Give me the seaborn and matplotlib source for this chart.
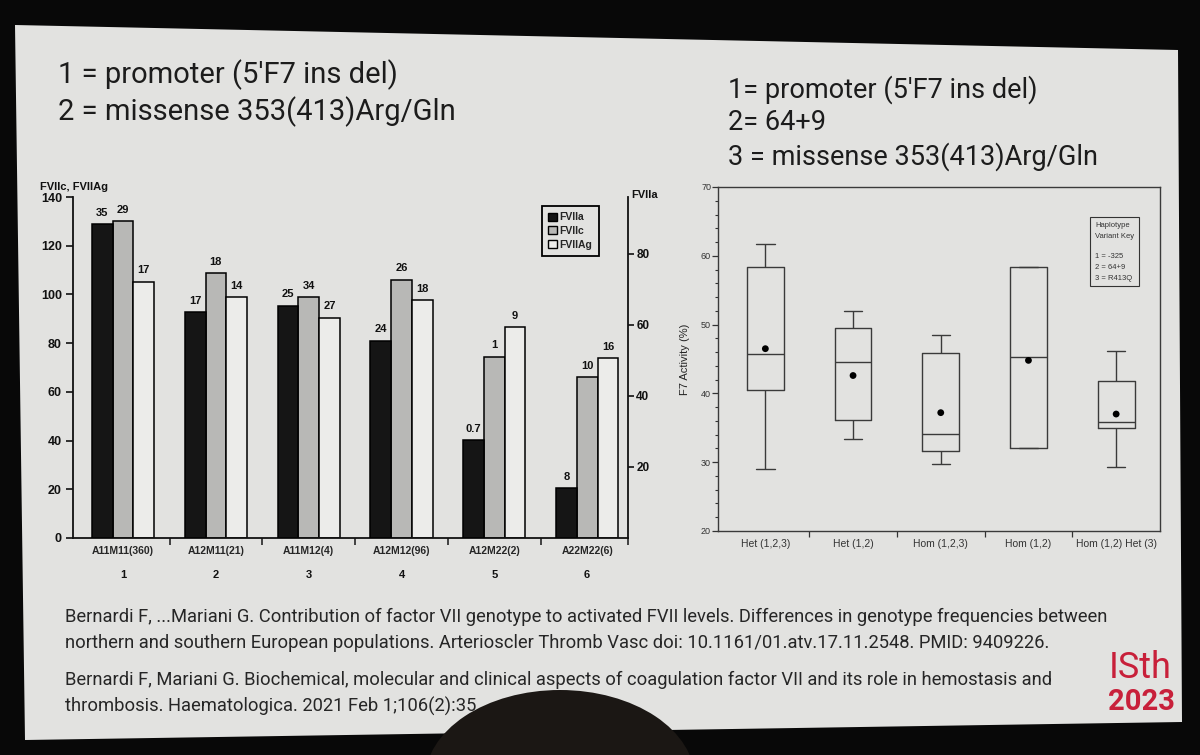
import numpy as np
import pandas as pd
import matplotlib
matplotlib.use("Agg")
import matplotlib.pyplot as plt
import matplotlib.transforms as mtransforms
from matplotlib.patches import Polygon, Ellipse, Patch
from matplotlib.ticker import AutoMinorLocator
import seaborn as sns

# ---------------- data: left chart (bar chart) ----------------
genotypes = ["A11M11(360)", "A12M11(21)", "A11M12(4)", "A12M12(96)", "A12M22(2)", "A22M22(6)"]
group_numbers = ["1", "2", "3", "4", "5", "6"]
series_names = ["FVIIa", "FVIIc", "FVIIAg"]
fviia = [88.4, 63.6, 65.4, 55.5, 27.5, 14.0]        # right axis (FVIIa)
fviic = [130.2, 108.7, 99.1, 106.1, 74.5, 66.0]     # left axis
fviiag = [105.3, 98.9, 90.5, 97.6, 86.5, 74.0]      # left axis
n_fviia = ["35", "17", "25", "24", "0.7", "8"]
n_fviic = ["29", "18", "34", "26", "1", "10"]
n_fviiag = ["17", "14", "27", "18", "9", "16"]
left_ticks = [0, 20, 40, 60, 80, 100, 120, 140]
right_ticks = [20, 40, 60, 80]

# ---------------- data: right chart (box plot) ----------------
haplotypes = ["Het (1,2,3)", "Het (1,2)", "Hom (1,2,3)", "Hom (1,2)", "Hom (1,2) Het (3)"]
whisker_low = [29.0, 33.4, 29.8, 32.0, 29.3]
q1_vals = [40.5, 36.1, 31.6, 32.0, 34.9]
median_vals = [45.7, 44.6, 34.1, 45.3, 35.9]
q3_vals = [58.4, 49.5, 45.9, 58.4, 41.8]
whisker_high = [61.7, 52.0, 48.5, 58.4, 46.2]
mean_activity = [46.5, 42.6, 37.2, 44.8, 37.0]
box_ticks = [20, 30, 40, 50, 60, 70]

# ---------------- text ----------------
left_heading = ["1 = promoter (5\u2032F7 ins del)", "2 = missense 353(413)Arg/Gln"]
right_heading = ["1= promoter (5\u2032F7 ins del)", "2= 64+9", "3 = missense 353(413)Arg/Gln"]
citations = [
    "Bernardi F, ...Mariani G. Contribution of factor VII genotype to activated FVII levels. Differences in genotype frequencies between",
    "northern and southern European populations. Arterioscler Thromb Vasc doi: 10.1161/01.atv.17.11.2548. PMID: 9409226.",
    "Bernardi F, Mariani G. Biochemical, molecular and clinical aspects of coagulation factor VII and its role in hemostasis and",
    "thrombosis. Haematologica. 2021 Feb 1;106(2):35",
]

sns.set_style("ticks")
plt.rcParams["font.family"] = ["Liberation Sans", "DejaVu Sans"]
SLIDE_FONT = ["Roboto", "DejaVu Sans"]

W, H = 1200, 755
fig = plt.figure(figsize=(12, 7.55), dpi=100)
fig.patch.set_facecolor("#080808")


def fx(x):
    return x / W


def fy(y):
    return 1 - y / H


slide_bg = "#e2e2e0"
fig.add_artist(Polygon([(fx(15), fy(25)), (fx(1178), fy(50)), (fx(1182), fy(722)), (fx(25), fy(740))],
                       closed=True, transform=fig.transFigure, facecolor=slide_bg,
                       edgecolor="none", zorder=0))

# headings
for i, t in enumerate(left_heading):
    fig.text(fx(58), fy(75 + 37 * i), t, fontsize=21, family=SLIDE_FONT, color="#1c1c1c",
             ha="left", va="center")
for t, yy in zip(right_heading, [90, 122, 157]):
    fig.text(fx(728), fy(yy), t, fontsize=19.5, family=SLIDE_FONT, color="#1c1c1c",
             ha="left", va="center")

# citations
for t, yy in zip(citations, [617, 643, 680, 706]):
    fig.text(fx(65), fy(yy), t, fontsize=13.2, family=SLIDE_FONT, color="#262626",
             ha="left", va="center")

# logo text
fig.text(fx(1140), fy(668), "ISth", fontsize=26, family=SLIDE_FONT, color="#c8203a",
         ha="center", va="center")
fig.text(fx(1141), fy(702), "2023", fontsize=21, family=SLIDE_FONT, color="#c8203a",
         ha="center", va="center", weight="bold")

# ---------------- left chart ----------------
palette = {"FVIIa": "#151515", "FVIIc": "#b8b8b6", "FVIIAg": "#ececea"}
axL = fig.add_axes([fx(73), fy(538), (628 - 73) / W, (538 - 197) / H])
axL.patch.set_alpha(0)
df_left = pd.DataFrame({
    "genotype": genotypes * 2,
    "series": ["FVIIc"] * len(genotypes) + ["FVIIAg"] * len(genotypes),
    "value": fviic + fviiag,
})
df_right = pd.DataFrame({"genotype": genotypes, "series": ["FVIIa"] * len(genotypes), "value": fviia})

bar_w = 0.67
sns.barplot(data=df_left, x="genotype", y="value", hue="series", order=genotypes,
            hue_order=series_names, palette=palette, width=bar_w, saturation=1, dodge=True,
            edgecolor="black", linewidth=1.1, errorbar=None, legend=False, ax=axL)
axR = axL.twinx()
axR.patch.set_alpha(0)
sns.barplot(data=df_right, x="genotype", y="value", hue="series", order=genotypes,
            hue_order=series_names, palette=palette, width=bar_w, saturation=1, dodge=True,
            edgecolor="black", linewidth=1.1, errorbar=None, legend=False, ax=axR)

axL.set_xlim(-0.54, 5.44)
axL.set_ylim(0, 140)
axR.set_ylim(0, 96)
axL.set_xlabel("")
axL.set_ylabel("")
axR.set_ylabel("")
axR.set_xlabel("")

axL.set_yticks(left_ticks)
axL.set_yticklabels([str(v) for v in left_ticks], fontweight="bold", fontsize=9)
axL.tick_params(axis="y", direction="out", length=5, width=1.2, pad=3, colors="#111")
axR.set_yticks(right_ticks)
axR.set_yticklabels([str(v) for v in right_ticks], fontweight="bold", fontsize=8.5)
axR.tick_params(axis="y", direction="out", length=4, width=1.2, pad=2, colors="#111")

axL.set_xticks(range(len(genotypes)))
axL.set_xticklabels(genotypes, fontweight="bold", fontsize=7.5)
axL.tick_params(axis="x", which="major", length=0, pad=6)
axL.set_xticks([0.5, 1.5, 2.5, 3.5, 4.5, 5.44], minor=True)
axL.tick_params(axis="x", which="minor", length=5, width=1.2, direction="out")

for sp in ["top", "right"]:
    axL.spines[sp].set_visible(False)
for sp in ["top", "left", "bottom"]:
    axR.spines[sp].set_visible(False)
for sp in ["left", "bottom"]:
    axL.spines[sp].set_linewidth(1.3)
    axL.spines[sp].set_color("#111")
axR.spines["right"].set_linewidth(1.3)
axR.spines["right"].set_color("#111")

trans = mtransforms.blended_transform_factory(axL.transData, axL.transAxes)
for i, num in enumerate(group_numbers):
    axL.text(i, -0.108, num, transform=trans, ha="center", va="center",
             fontsize=8, fontweight="bold", color="#111")

off = bar_w / 3
for i in range(len(genotypes)):
    axR.text(i - off, fviia[i] + 1.8, n_fviia[i], ha="center", va="bottom", fontsize=8,
             fontweight="bold", color="#111")
    axL.text(i, fviic[i] + 2.5, n_fviic[i], ha="center", va="bottom", fontsize=8,
             fontweight="bold", color="#111")
    axL.text(i + off, fviiag[i] + 2.5, n_fviiag[i], ha="center", va="bottom", fontsize=8,
             fontweight="bold", color="#111")

fig.text(fx(74), fy(187), "FVIIc, FVIIAg", fontsize=8, fontweight="bold", ha="center",
         va="center", color="#111")
fig.text(fx(645), fy(195), "FVIIa", fontsize=8, fontweight="bold", ha="center",
         va="center", color="#111")

handles = [Patch(facecolor=palette[s], edgecolor="black", label=s) for s in series_names]
leg = axL.legend(handles=handles, loc="upper left",
                 bbox_to_anchor=((542 - 73) / 555, (538 - 206) / 341),
                 frameon=True, fancybox=False, edgecolor="black", facecolor=slide_bg,
                 framealpha=1, prop=dict(weight="bold", size=7.5), handlelength=0.8,
                 handleheight=0.8, handletextpad=0.3, labelspacing=0.35, borderpad=0.6,
                 borderaxespad=0)
leg.get_frame().set_linewidth(1.3)

# ---------------- right chart ----------------
axB = fig.add_axes([fx(718), fy(531), (1160 - 718) / W, (531 - 187) / H])
axB.patch.set_alpha(0)
box_rows = []
for g, lo, a, m, b, hi in zip(haplotypes, whisker_low, q1_vals, median_vals, q3_vals, whisker_high):
    for v in (lo, a, m, b, hi):
        box_rows.append({"haplotype": g, "activity": v})
df_box = pd.DataFrame(box_rows)
sns.boxplot(data=df_box, x="haplotype", y="activity", order=haplotypes, whis=(0, 100),
            width=0.42, fill=False, color="#3a3a3a", linewidth=1.0, ax=axB)
sns.scatterplot(x=np.arange(len(haplotypes)), y=mean_activity, color="black", s=24,
                edgecolor="none", legend=False, ax=axB, zorder=5)

axB.set_xlim(-0.54, 4.5)
axB.set_ylim(20, 70)
axB.set_yticks(box_ticks)
axB.set_yticklabels([str(v) for v in box_ticks], fontsize=6.5, color="#333")
axB.yaxis.set_minor_locator(AutoMinorLocator(5))
axB.tick_params(axis="y", which="major", direction="out", length=4, width=0.9, colors="#333", pad=1)
axB.tick_params(axis="y", which="minor", direction="out", length=2.5, width=0.8, colors="#333")
axB.set_xticks(range(len(haplotypes)))
axB.set_xticklabels(haplotypes, fontsize=7.5, color="#333")
axB.tick_params(axis="x", which="major", length=0, pad=6)
axB.set_xticks([0.5, 1.5, 2.5, 3.5], minor=True)
axB.tick_params(axis="x", which="minor", length=4, width=0.9, direction="out", colors="#333")
axB.set_xlabel("")
axB.set_ylabel("F7 Activity (%)", fontsize=8, color="#222", labelpad=8)
for sp in axB.spines.values():
    sp.set_visible(True)
    sp.set_linewidth(1.0)
    sp.set_color("#3a3a3a")

axB.text((1095 - 718) / 442, (531 - 222) / 344,
         "Haplotype\nVariant Key\n\n1 = -325\n2 = 64+9\n3 = R413Q",
         transform=axB.transAxes, fontsize=5.5, va="top", ha="left", color="#333",
         linespacing=1.7,
         bbox=dict(boxstyle="square,pad=0.6", facecolor="none", edgecolor="#333", lw=0.8))

# audience head at the bottom
fig.add_artist(Ellipse((fx(560), fy(780)), 270 / W, 180 / H, transform=fig.transFigure,
                       facecolor="#1b1714", edgecolor="none", zorder=10))

fig.savefig("out.png", dpi=100, facecolor=fig.get_facecolor())
